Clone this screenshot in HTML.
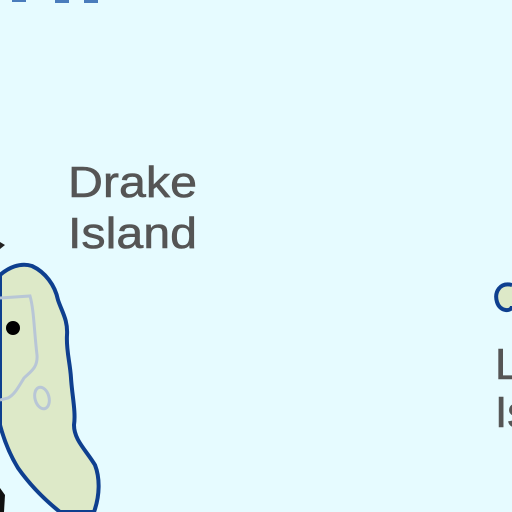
<!DOCTYPE html>
<html><head><meta charset="utf-8"><style>
html,body{margin:0;padding:0;width:512px;height:512px;overflow:hidden;background:#e6fbff}
text{font-family:"Liberation Sans",sans-serif;fill:#555;stroke:#555;stroke-width:0.6}
</style></head><body>
<svg width="512" height="512" viewBox="0 0 512 512">
<rect width="512" height="512" fill="#e6fbff"/>
<g fill="#4a7cbc">
<rect x="12" y="0" width="14" height="2"/><rect x="55" y="0" width="14" height="3"/><rect x="84" y="0" width="14" height="3"/>
</g>
<path d="M0,275 C8,268 20,262 32,266 C45,272 55,285 58,300 C62,312 68,320 67,335 C66,350 70,362 71,378 C72,395 76,412 74,425 C74,440 86,450 95,465 C100,478 100,495 94,512 L60,512 C45,500 30,485 18,468 C10,455 4,440 0,425 Z" fill="#dde9c8" stroke="#0e3f8f" stroke-width="4"/>
<path d="M0,298 L30,296 C34,310 34,330 37,355 C38,368 30,372 24,378 C18,388 14,395 8,398 L0,400" fill="none" stroke="#b8c6d6" stroke-width="3"/>
<ellipse cx="42" cy="398" rx="7" ry="11" transform="rotate(-15 42 398)" fill="none" stroke="#b8c6d6" stroke-width="3"/>
<circle cx="13" cy="328" r="7" fill="#000"/>
<path d="M0,242 L5,245 L0,249 Z" fill="#222"/>
<path d="M0,488 L5,495 L4,512 L0,512 Z" fill="#111"/>
<path d="M512,285 C500,282 494,292 497,302 C500,312 512,312 512,306" fill="#dde9c8" stroke="#0e3f8f" stroke-width="4"/>
<text x="68" y="197" font-size="44" textLength="129" lengthAdjust="spacingAndGlyphs">Drake</text>
<text x="68" y="248" font-size="44" textLength="129" lengthAdjust="spacingAndGlyphs">Island</text>
<text x="495" y="379" font-size="44">L</text>
<text x="495" y="427" font-size="44">Is</text>
</svg>
</body></html>
